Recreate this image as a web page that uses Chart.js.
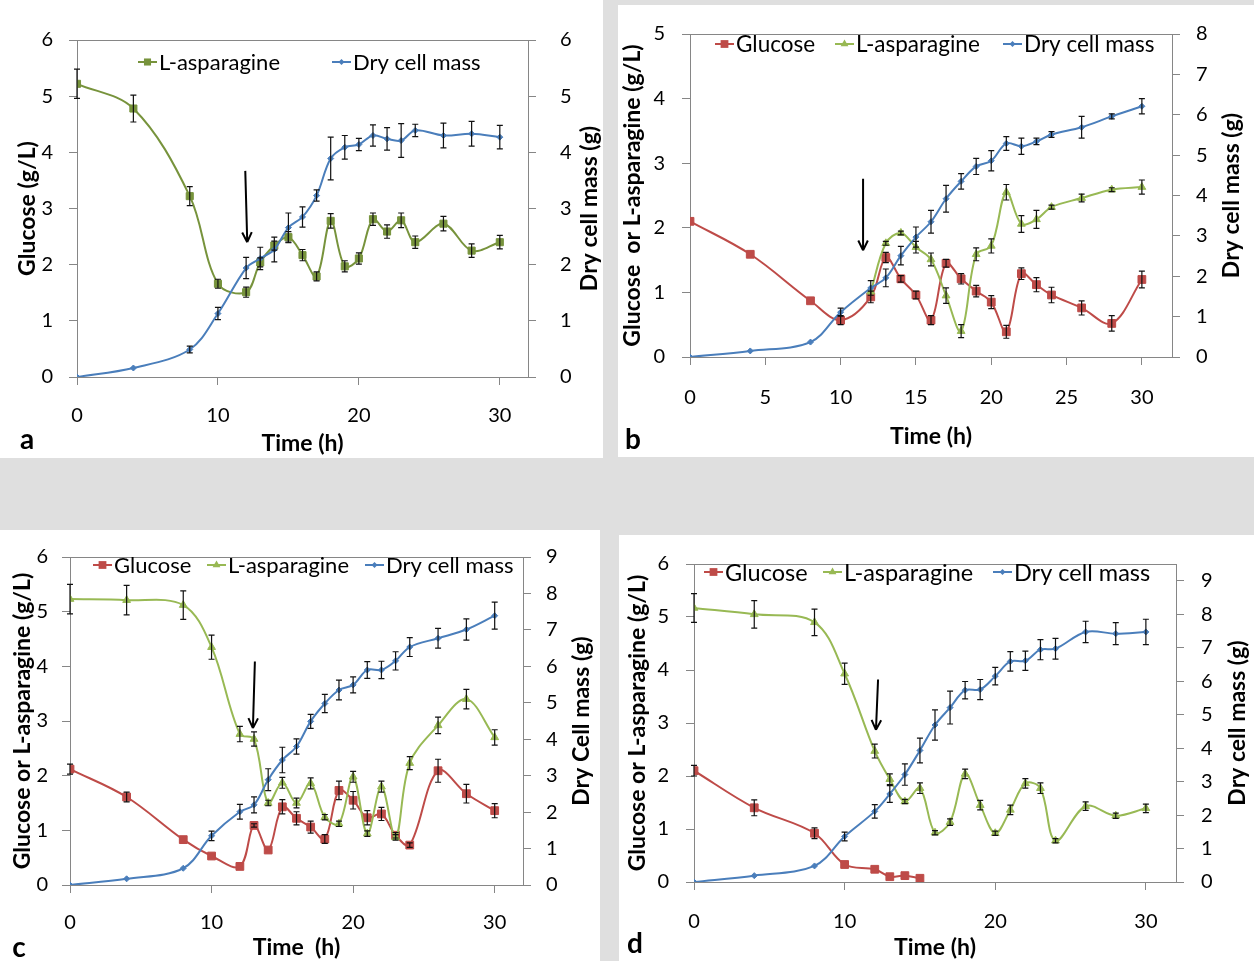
<!DOCTYPE html>
<html>
<head>
<meta charset="utf-8">
<script src="https://cdn.jsdelivr.net/npm/chart.js@4.4.1/dist/chart.umd.min.js"></script>
<style>
  body { margin: 0; width: 1254px; height: 961px; background: #dfdfdf; position: relative; overflow: hidden; }
  .panel { position: absolute; background: #fff; }
  .panel canvas { display: block; }
  .tag { position: absolute; font: bold 28px Lato, sans-serif; color: #000; transform: translate(-50%, -50%); line-height: 1; }
</style>
</head>
<body>
<div class="panel"><canvas id="chartA"></canvas></div>
<div class="panel"><canvas id="chartB"></canvas></div>
<div class="panel"><canvas id="chartC"></canvas></div>
<div class="panel"><canvas id="chartD"></canvas></div>
<div class="tag" style="left:27px;top:438px">a</div>
<div class="tag" style="left:633px;top:438px">b</div>
<div class="tag" style="left:19px;top:946px">c</div>
<div class="tag" style="left:635px;top:942px">d</div>
<script>
// sampling times (h), shared by all four runs
const times = [0, 4, 8, 10, 12, 13, 14, 15, 16, 17, 18, 19, 20, 21, 22, 23, 24, 26, 28, 30];

// (a)
const aAsparagine    = [5.22, 4.78, 3.22, 1.66, 1.51, 2.04, 2.34, 2.49, 2.17, 1.79, 2.78, 1.97, 2.11, 2.81, 2.59, 2.79, 2.40, 2.73, 2.25, 2.40];
const aAsparagineErr = [0.26, 0.24, 0.17, 0.08, 0.09, 0.08, 0.08, 0.10, 0.10, 0.08, 0.13, 0.10, 0.10, 0.11, 0.12, 0.13, 0.11, 0.13, 0.12, 0.12];
const aDryMass       = [0, 0.16, 0.49, 1.13, 1.94, 2.11, 2.27, 2.66, 2.85, 3.23, 3.89, 4.09, 4.14, 4.30, 4.24, 4.21, 4.39, 4.30, 4.33, 4.27];
const aDryMassErr    = [0, 0, 0.06, 0.11, 0.19, 0.20, 0.22, 0.26, 0.18, 0.10, 0.38, 0.21, 0.11, 0.19, 0.20, 0.30, 0.11, 0.22, 0.22, 0.21];
const aArrow = [11.94, 3.67, 12.08, 2.40];

// (b)
const bGlucose       = [2.10, 1.59, 0.87, 0.57, 0.93, 1.54, 1.21, 0.96, 0.57, 1.45, 1.21, 1.02, 0.85, 0.39, 1.29, 1.12, 0.96, 0.76, 0.52, 1.20];
const bGlucoseErr    = [0, 0, 0, 0.07, 0.09, 0.08, 0.05, 0.06, 0.07, 0.06, 0.08, 0.09, 0.10, 0.10, 0.09, 0.11, 0.12, 0.11, 0.12, 0.13];
const bAsparagine    = [null, null, null, null, 1.01, 1.76, 1.92, 1.70, 1.51, 0.95, 0.40, 1.59, 1.72, 2.55, 2.06, 2.13, 2.32, 2.46, 2.59, 2.63];
const bAsparagineErr = [0, 0, 0, 0, 0, 0.03, 0.03, 0.09, 0.10, 0.12, 0.10, 0.10, 0.11, 0.12, 0.13, 0.14, 0.03, 0.06, 0.03, 0.11];
const bDryMass       = [0, 0.15, 0.37, 1.11, 1.71, 1.96, 2.51, 2.97, 3.35, 3.92, 4.35, 4.72, 4.86, 5.29, 5.22, 5.34, 5.51, 5.69, 5.96, 6.21];
const bDryMassErr    = [0, 0, 0, 0.10, 0.18, 0.22, 0.23, 0.25, 0.28, 0.33, 0.19, 0.20, 0.25, 0.17, 0.20, 0.08, 0.07, 0.27, 0.06, 0.19];
const bArrow = [11.49, 2.76, 11.49, 1.65];

// (c)
const cGlucose       = [2.12, 1.61, 0.83, 0.53, 0.34, 1.09, 0.64, 1.43, 1.22, 1.06, 0.84, 1.73, 1.55, 1.23, 1.30, 0.91, 0.73, 2.09, 1.67, 1.36];
const cGlucoseErr    = [0.09, 0.09, 0, 0, 0, 0.03, 0, 0.13, 0.12, 0.11, 0.08, 0.17, 0.16, 0.13, 0.12, 0.05, 0.04, 0.21, 0.17, 0.13];
const cAsparagine    = [5.23, 5.21, 5.12, 4.35, 2.76, 2.67, 1.50, 1.87, 1.50, 1.86, 1.24, 1.12, 1.98, 0.94, 1.80, 0.87, 2.23, 2.92, 3.40, 2.70];
const cAsparagineErr = [0.27, 0.27, 0.26, 0.22, 0.14, 0.13, 0.05, 0.10, 0.09, 0.10, 0.05, 0.05, 0.10, 0.05, 0.10, 0.05, 0.12, 0.15, 0.18, 0.14];
const cDryMass       = [0, 0.17, 0.46, 1.35, 2.01, 2.20, 2.89, 3.43, 3.80, 4.49, 4.98, 5.35, 5.49, 5.90, 5.90, 6.15, 6.53, 6.77, 7.01, 7.39];
const cDryMassErr    = [0, 0, 0, 0.13, 0.20, 0.22, 0.30, 0.35, 0.21, 0.19, 0.25, 0.27, 0.22, 0.23, 0.24, 0.25, 0.26, 0.27, 0.29, 0.37];
const cArrow = [13.06, 4.09, 12.92, 2.87];

// (d)
const dGlucose       = [2.10, 1.40, 0.92, 0.33, 0.24, 0.10, 0.12, 0.07, null, null, null, null, null, null, null, null, null, null, null, null];
const dGlucoseErr    = [0.10, 0.15, 0.10, 0, 0, 0, 0, 0, 0, 0, 0, 0, 0, 0, 0, 0, 0, 0, 0, 0];
const dAsparagine    = [5.17, 5.05, 4.90, 3.93, 2.47, 1.94, 1.52, 1.77, 0.93, 1.13, 2.04, 1.45, 0.92, 1.36, 1.86, 1.77, 0.78, 1.43, 1.25, 1.39];
const dAsparagineErr = [0.27, 0.26, 0.25, 0.20, 0.13, 0.10, 0.04, 0.10, 0.04, 0.06, 0.09, 0.09, 0.04, 0.09, 0.09, 0.10, 0.04, 0.08, 0.05, 0.08];
const dDryMass       = [0, 0.19, 0.48, 1.36, 2.11, 2.63, 3.21, 3.93, 4.69, 5.21, 5.73, 5.75, 6.15, 6.59, 6.61, 6.94, 6.97, 7.47, 7.42, 7.47];
const dDryMassErr    = [0, 0, 0, 0.13, 0.20, 0.25, 0.32, 0.37, 0.45, 0.49, 0.26, 0.30, 0.26, 0.29, 0.29, 0.30, 0.31, 0.32, 0.33, 0.38];
const dArrow = [12.22, 3.82, 12.08, 2.87];

const RED = '#be4b48', GREEN = '#98b954', OLIVE = '#77933c', BLUE = '#4a7ebb';
const AXIS = '#868686';
const FONT = "Lato, 'Liberation Sans', sans-serif";

Chart.defaults.font.family = FONT;
Chart.defaults.font.size = 20;
Chart.defaults.color = '#000';

function points(values, errs) {
    return times.map((t, i) => ({ x: t, y: values[i], e: errs[i] })).filter(p => p.y !== null);
}

// frame round the plot area
const plotFrame = {
    id: 'plotFrame',
    beforeDatasetsDraw(chart) {
        const { ctx, chartArea: a } = chart;
        ctx.save();
        ctx.strokeStyle = AXIS;
        ctx.lineWidth = 1;
        ctx.strokeRect(Math.round(a.left) + 0.5, Math.round(a.top) + 0.5, Math.round(a.right - a.left), Math.round(a.bottom - a.top));
        ctx.restore();
    }
};

// vertical error bars with caps
const errorBars = {
    id: 'errorBars',
    afterDatasetsDraw(chart) {
        const ctx = chart.ctx;
        const xs = chart.scales.x;
        ctx.save();
        ctx.strokeStyle = '#111';
        ctx.lineWidth = 1.2;
        chart.data.datasets.forEach(ds => {
            const ys = chart.scales[ds.yAxisID];
            ds.data.forEach(p => {
                if (!p.e) return;
                const x = xs.getPixelForValue(p.x);
                const y1 = ys.getPixelForValue(p.y + p.e);
                const y2 = ys.getPixelForValue(p.y - p.e);
                ctx.beginPath();
                ctx.moveTo(x, y1); ctx.lineTo(x, y2);
                ctx.moveTo(x - 3, y1); ctx.lineTo(x + 3, y1);
                ctx.moveTo(x - 3, y2); ctx.lineTo(x + 3, y2);
                ctx.stroke();
            });
        });
        ctx.restore();
    }
};

// arrow marking the feeding point, given in data units of the left axis
const feedArrow = {
    id: 'feedArrow',
    afterDatasetsDraw(chart, args, opts) {
        if (!opts.at) return;
        const [x1, y1, x2, y2] = opts.at;
        const xs = chart.scales.x, ys = chart.scales.y;
        const px1 = xs.getPixelForValue(x1), py1 = ys.getPixelForValue(y1);
        const px2 = xs.getPixelForValue(x2), py2 = ys.getPixelForValue(y2);
        const ang = Math.atan2(py2 - py1, px2 - px1);
        const ctx = chart.ctx;
        ctx.save();
        ctx.strokeStyle = '#000';
        ctx.lineWidth = 2;
        ctx.beginPath();
        ctx.moveTo(px1, py1); ctx.lineTo(px2, py2);
        [-0.45, 0.45].forEach(d => {
            ctx.moveTo(px2, py2);
            ctx.lineTo(px2 - 11 * Math.cos(ang + d), py2 - 11 * Math.sin(ang + d));
        });
        ctx.stroke();
        ctx.restore();
    }
};

function marker(ctx, style, x, y, r) {
    ctx.beginPath();
    if (style === 'rect') {
        const s = r * Math.SQRT1_2;
        ctx.rect(x - s, y - s, 2 * s, 2 * s);
    } else if (style === 'triangle') {
        ctx.moveTo(x, y - r);
        ctx.lineTo(x + r * 0.87, y + r * 0.5);
        ctx.lineTo(x - r * 0.87, y + r * 0.5);
        ctx.closePath();
    } else {
        ctx.moveTo(x, y - r); ctx.lineTo(x + r, y); ctx.lineTo(x, y + r); ctx.lineTo(x - r, y);
        ctx.closePath();
    }
    ctx.fill();
}

// Excel-like legend: short line with the marker, then the label
const inlineLegend = {
    id: 'inlineLegend',
    afterDraw(chart, args, opts) {
        const ctx = chart.ctx;
        ctx.save();
        ctx.font = opts.size + 'px ' + FONT;
        ctx.textBaseline = 'middle';
        chart.data.datasets.forEach((ds, i) => {
            const x = opts.xs[i], y = opts.y;
            ctx.strokeStyle = ds.borderColor;
            ctx.fillStyle = ds.borderColor;
            ctx.lineWidth = 2;
            ctx.beginPath();
            ctx.moveTo(x, y); ctx.lineTo(x + 19, y);
            ctx.stroke();
            marker(ctx, ds.pointStyle, x + 9.5, y, ds.pointRadius);
            ctx.fillStyle = '#000';
            ctx.fillText(ds.label, x + 21, y + 1);
        });
        ctx.restore();
    }
};

// right-hand axis title, reading bottom to top
const rightTitle = {
    id: 'rightTitle',
    afterDraw(chart, args, opts) {
        const ctx = chart.ctx, a = chart.chartArea;
        ctx.save();
        ctx.font = 'bold 23px ' + FONT;
        ctx.fillStyle = '#000';
        ctx.textAlign = 'center';
        ctx.textBaseline = 'middle';
        ctx.translate(chart.width - opts.offset, (a.top + a.bottom) / 2);
        ctx.rotate(-Math.PI / 2);
        ctx.fillText(opts.text, 0, 0);
        ctx.restore();
    }
};

function series(label, values, errs, color, style, radius, axis, order) {
    return {
        label, data: points(values, errs), yAxisID: axis, order,
        borderColor: color, backgroundColor: color,
        pointStyle: style, pointRadius: radius, pointHoverRadius: radius,
        pointBackgroundColor: color, pointBorderColor: color, pointBorderWidth: 1,
        borderWidth: 2, tension: 0.35, fill: false
    };
}

function buildPanel(p) {
    const canvas = document.getElementById(p.id);
    const wrap = canvas.parentElement;
    const box = p.box, plot = p.plot;
    Object.assign(wrap.style, { left: box.x + 'px', top: box.y + 'px', width: box.w + 'px', height: box.h + 'px' });
    canvas.width = box.w;
    canvas.height = box.h;
    const axisGrid = { drawOnChartArea: false, drawTicks: true, tickLength: 8, color: AXIS };
    const axisBorder = { display: true, color: AXIS, width: 1 };
    const titleFont = { weight: 'bold', size: 23 };

    return new Chart(canvas, {
        type: 'line',
        data: { datasets: p.datasets },
        options: {
            responsive: false,
            animation: false,
            devicePixelRatio: 1,
            layout: { padding: { top: plot.t - box.y, left: 0, right: 0, bottom: 0 } },
            plugins: {
                legend: { display: false },
                tooltip: { enabled: false },
                inlineLegend: { xs: p.legendX, y: p.legendY, size: p.legendSize || 22 },
                rightTitle: { text: p.y1Title, offset: p.y1TitleOffset },
                feedArrow: { at: p.arrow }
            },
            scales: {
                x: {
                    type: 'linear', position: 'bottom', min: 0, max: 32,
                    ticks: { stepSize: p.xStep, includeBounds: false, padding: p.xTickPad },
                    grid: axisGrid, border: axisBorder,
                    title: { display: true, text: p.xTitle, font: titleFont, padding: { top: 0, bottom: p.xTitlePad } },
                    afterFit: s => { s.height = box.y + box.h - plot.b; }
                },
                y: {
                    position: 'left', min: 0, max: p.yMax,
                    ticks: { stepSize: 1, padding: p.yTickPad },
                    grid: axisGrid, border: axisBorder,
                    title: { display: true, text: p.yTitle, font: titleFont, padding: { top: p.yTitlePad, bottom: 0 } },
                    afterFit: s => { s.width = plot.l - box.x; }
                },
                y1: {
                    position: 'right', min: 0, max: p.y1Max,
                    ticks: { stepSize: 1, padding: p.y1TickPad, includeBounds: false },
                    grid: axisGrid, border: axisBorder,
                    afterFit: s => { s.width = box.x + box.w - plot.r; }
                }
            }
        },
        plugins: [plotFrame, errorBars, feedArrow, inlineLegend, rightTitle]
    });
}

buildPanel({
    id: 'chartA',
    box: { x: 0, y: 0, w: 603, h: 458 }, plot: { l: 77, t: 40, r: 528, b: 377 },
    yMax: 6, y1Max: 6, xStep: 10,
    yTitle: 'Glucose (g/L)', y1Title: 'Dry cell mass (g)', xTitle: 'Time (h)',
    yTickPad: 16, y1TickPad: 24, xTickPad: 19, yTitlePad: 14.2, xTitlePad: 0.2, y1TitleOffset: 13,
    legendX: [138, 332], legendY: 62,
    arrow: aArrow,
    datasets: [
        series('L-asparagine', aAsparagine, aAsparagineErr, OLIVE, 'rect', 5, 'y', 1),
        series('Dry cell mass', aDryMass, aDryMassErr, BLUE, 'rectRot', 3, 'y1', 0)
    ]
});

buildPanel({
    id: 'chartB',
    box: { x: 618, y: 5, w: 636, h: 452 }, plot: { l: 690, t: 27, r: 1172, b: 357 },
    yMax: 5, y1Max: 8, xStep: 5,
    yTitle: 'Glucose  or L-asparagine (g/L)', y1Title: 'Dry cell mass (g)', xTitle: 'Time (h)',
    yTickPad: 17, y1TickPad: 16, xTickPad: 21, yTitlePad: 1.2, xTitlePad: 6.2, y1TitleOffset: 22,
    legendX: [97, 217, 385], legendY: 39, legendSize: 22.5,
    arrow: bArrow,
    datasets: [
        series('Glucose', bGlucose, bGlucoseErr, RED, 'rect', 5.5, 'y', 2),
        series('L-asparagine', bAsparagine, bAsparagineErr, GREEN, 'triangle', 4.5, 'y', 1),
        series('Dry cell mass', bDryMass, bDryMassErr, BLUE, 'rectRot', 3, 'y1', 0)
    ]
});

buildPanel({
    id: 'chartC',
    box: { x: 0, y: 530, w: 600, h: 431 }, plot: { l: 70, t: 546, r: 523, b: 885 },
    yMax: 6, y1Max: 9, xStep: 10,
    yTitle: 'Glucose or L-asparagine (g/L)', y1Title: 'Dry Cell mass (g)', xTitle: 'Time  (h)',
    yTickPad: 14, y1TickPad: 15, xTickPad: 18, yTitlePad: 9.2, xTitlePad: 0, y1TitleOffset: 18,
    legendX: [93, 207, 365], legendY: 35,
    arrow: cArrow,
    datasets: [
        series('Glucose', cGlucose, cGlucoseErr, RED, 'rect', 5.5, 'y', 2),
        series('L-asparagine', cAsparagine, cAsparagineErr, GREEN, 'triangle', 4.5, 'y', 1),
        series('Dry cell mass', cDryMass, cDryMassErr, BLUE, 'rectRot', 3, 'y1', 0)
    ]
});

buildPanel({
    id: 'chartD',
    box: { x: 619, y: 535, w: 635, h: 426 }, plot: { l: 694, t: 550, r: 1176, b: 882 },
    yMax: 6, y1Max: 9.5, xStep: 10,
    yTitle: 'Glucose or L-asparagine (g/L)', y1Title: 'Dry cell mass (g)', xTitle: 'Time (h)',
    yTickPad: 17, y1TickPad: 17, xTickPad: 20, yTitlePad: 5.2, xTitlePad: 0, y1TitleOffset: 16,
    legendX: [85, 204, 374], legendY: 37, legendSize: 23.5,
    arrow: dArrow,
    datasets: [
        series('Glucose', dGlucose, dGlucoseErr, RED, 'rect', 5.5, 'y', 2),
        series('L-asparagine', dAsparagine, dAsparagineErr, GREEN, 'triangle', 4.5, 'y', 1),
        series('Dry cell mass', dDryMass, dDryMassErr, BLUE, 'rectRot', 3, 'y1', 0)
    ]
});
</script>
</body>
</html>
